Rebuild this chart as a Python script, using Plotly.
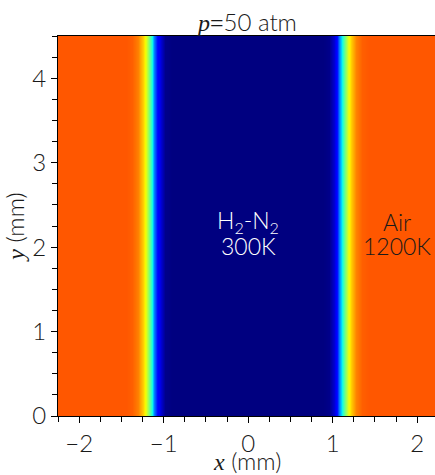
import plotly.graph_objects as go

# Temperature profile across x (mm)
x_mm = [-2.5, -1.45, -1.38, -1.30, -1.25, -1.21, -1.17, -1.14, -1.11, -1.08, -1.03, -0.98, -0.90,
        0.0,
        0.88, 0.96, 1.01, 1.05, 1.08, 1.11, 1.14, 1.18, 1.22, 1.27, 1.35, 1.43, 2.5]
T_K = [1200, 1200, 1190, 1150, 1060, 982, 850, 707, 575, 454, 377, 310, 300,
       300,
       300, 310, 377, 454, 575, 707, 850, 982, 1060, 1150, 1190, 1200, 1200]
y_mm = [0.0, 4.5]

T_MIN, T_MAX = 300, 1400

x_ticks = [-2, -1, 0, 1, 2]
y_ticks = [0, 1, 2, 3, 4]

# matplotlib "jet" colour map stops
jet = [
    [0.0, "rgb(0,0,128)"], [0.11, "rgb(0,0,255)"], [0.125, "rgb(0,0,255)"],
    [0.34, "rgb(0,219,255)"], [0.35, "rgb(0,229,247)"], [0.375, "rgb(21,255,226)"],
    [0.64, "rgb(238,255,8)"], [0.65, "rgb(247,246,0)"], [0.66, "rgb(255,236,0)"],
    [0.89, "rgb(255,19,0)"], [0.91, "rgb(232,0,0)"], [1.0, "rgb(128,0,0)"],
]

FONT = "Lato, 'Open Sans', sans-serif"
INK = "#1a1a1a"
SERIF = "font-family:Liberation Serif;font-weight:normal"
SZ = 24

fig = go.Figure(go.Heatmap(
    x=x_mm, y=y_mm, z=[T_K for _ in y_mm],
    colorscale=jet, zmin=T_MIN, zmax=T_MAX, zsmooth="best",
    showscale=False, hoverinfo="skip",
))

axis_common = dict(
    showline=True, linecolor="black", linewidth=1.2, mirror=True,
    ticks="outside", ticklen=6, tickwidth=1, tickcolor="black",
    showgrid=False, zeroline=False,
    tickfont=dict(family=FONT, size=SZ, color=INK, weight=300),
    minor=dict(ticks="outside", ticklen=5, tickwidth=1, tickcolor="black", dtick=0.25),
)

fig.update_xaxes(range=[-2.25, 2.21], tickvals=x_ticks,
                 ticktext=["\u22122", "\u22121", "0", "1", "2"],
                 **axis_common)
fig.update_yaxes(range=[0, 4.5], tickvals=y_ticks,
                 title=dict(text=f"<span style='{SERIF}'><i>y</i></span> (mm)",
                            font=dict(family=FONT, size=SZ, color=INK, weight=300), standoff=0),
                 **axis_common)

txt = lambda size, color: dict(family=FONT, size=size, color=color, weight=300)

fig.update_layout(
    width=435, height=475,
    margin=dict(l=58, r=0, t=36, b=59),
    paper_bgcolor="white", plot_bgcolor="white",
    font=dict(family=FONT, color=INK, weight=300),
    annotations=[
        dict(xref="x domain", yref="y domain", x=0.5, y=1.037, yanchor="middle",
             text=f"<span style='{SERIF}'><i>p</i>=</span>50 atm", showarrow=False,
             font=txt(SZ, INK)),
        dict(xref="x domain", yref="y domain", x=0.5, y=-0.116, yanchor="middle",
             text=f"<span style='{SERIF}'><i>x</i></span> (mm)", showarrow=False,
             font=txt(SZ, INK)),
        dict(x=0.0, y=2.30, text="H<sub>2</sub>-N<sub>2</sub>", showarrow=False,
             font=txt(23, "white"), yanchor="middle"),
        dict(x=0.0, y=2.01, text="300K", showarrow=False,
             font=txt(23, "white"), yanchor="middle"),
        dict(x=1.76, y=2.30, text="Air", showarrow=False,
             font=txt(23, INK), yanchor="middle"),
        dict(x=1.76, y=2.01, text="1200K", showarrow=False,
             font=txt(23, INK), yanchor="middle"),
    ],
)

fig.write_html("out.html")
